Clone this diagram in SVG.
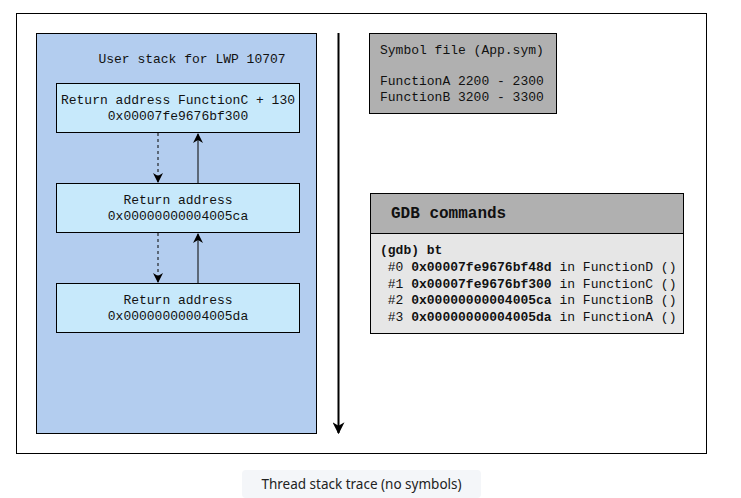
<svg xmlns="http://www.w3.org/2000/svg" width="741" height="498" viewBox="0 0 741 498">
<defs>
<marker id="ah" viewBox="0 0 10 10" refX="9" refY="5" markerWidth="10" markerHeight="10" markerUnits="userSpaceOnUse" orient="auto">
<path d="M0,0 L10,5 L0,10 L3,5 z" fill="#000"/>
</marker>
<marker id="ahBig" viewBox="0 0 10 10" refX="9" refY="5" markerWidth="12" markerHeight="12" markerUnits="userSpaceOnUse" orient="auto">
<path d="M0,0 L10,5 L0,10 L3,5 z" fill="#000"/>
</marker>
<style>
.mono{font-family:"Liberation Mono","DejaVu Sans Mono",monospace;font-size:13px;fill:#111;}
.b{font-weight:bold;}
.frame{fill:#b3cdef;stroke:#000;stroke-width:1;}
.box{fill:#c7e9fb;stroke:#000;stroke-width:1;}
.grey{fill:#b0b0b0;stroke:#000;stroke-width:1;}
.light{fill:#e6e6e6;stroke:#000;stroke-width:1;}
.conn{stroke:#5b6878;stroke-width:2;fill:none;}
</style>
</defs>
<rect x="16.5" y="13.5" width="690" height="440" fill="#fff" stroke="#000" stroke-width="1"/>
<g id="stack-panel">
<rect class="frame" x="36.5" y="33.5" width="280" height="400"/>
<text class="mono" x="192" y="63" text-anchor="middle">User stack for LWP 10707</text>
</g>
<g id="frameC">
<rect class="box" x="56.5" y="83.5" width="243" height="49"/>
<text class="mono" x="178" y="104" text-anchor="middle">Return address FunctionC + 130</text>
<text class="mono" x="178" y="120" text-anchor="middle">0x00007fe9676bf300</text>
</g>
<g id="frameB">
<rect class="box" x="56.5" y="183.5" width="243" height="49"/>
<text class="mono" x="178" y="204" text-anchor="middle">Return address</text>
<text class="mono" x="178" y="220" text-anchor="middle">0x00000000004005ca</text>
</g>
<g id="frameA">
<rect class="box" x="56.5" y="283.5" width="243" height="49"/>
<text class="mono" x="178" y="304" text-anchor="middle">Return address</text>
<text class="mono" x="178" y="320" text-anchor="middle">0x00000000004005da</text>
</g>
<g id="symbol-file">
<rect class="grey" x="369.5" y="33.5" width="187" height="80"/>
<text class="mono" x="380" y="54">Symbol file (App.sym)</text>
<text class="mono" x="380" y="85">FunctionA 2200 - 2300</text>
<text class="mono" x="380" y="101">FunctionB 3200 - 3300</text>
</g>
<g id="gdb-commands">
<rect class="grey" x="370.5" y="193.5" width="313" height="40"/>
<rect class="light" x="370.5" y="233.5" width="313" height="100"/>
<text class="mono b" x="391" y="218" style="font-size:16px">GDB commands</text>
<text class="mono" x="380" y="254"><tspan class="b">(gdb) bt</tspan></text>
<text class="mono" x="380" y="271" xml:space="preserve"> #0 <tspan class="b">0x00007fe9676bf48d</tspan> in FunctionD ()</text>
<text class="mono" x="380" y="288" xml:space="preserve"> #1 <tspan class="b">0x00007fe9676bf300</tspan> in FunctionC ()</text>
<text class="mono" x="380" y="304" xml:space="preserve"> #2 <tspan class="b">0x00000000004005ca</tspan> in FunctionB ()</text>
<text class="mono" x="380" y="321" xml:space="preserve"> #3 <tspan class="b">0x00000000004005da</tspan> in FunctionA ()</text>
</g>
<g id="connectors">
<line class="conn" x1="158" y1="133" x2="158" y2="182" stroke-dasharray="3,3" marker-end="url(#ah)"/>
<line class="conn" x1="198" y1="183" x2="198" y2="134" marker-end="url(#ah)"/>
<line class="conn" x1="158" y1="233" x2="158" y2="282" stroke-dasharray="3,3" marker-end="url(#ah)"/>
<line class="conn" x1="198" y1="283" x2="198" y2="234" marker-end="url(#ah)"/>
<line x1="338.5" y1="33" x2="338.5" y2="433" stroke="#000" stroke-width="2" marker-end="url(#ahBig)"/>
</g>
<g id="caption">
<rect x="242" y="470" width="239" height="28" rx="4" fill="#f4f6f9"/>
<text x="361.5" y="489" text-anchor="middle" style="font-family:'Noto Sans','Open Sans',sans-serif;font-size:13.5px;fill:#222">Thread stack trace (no symbols)</text>
</g>
</svg>
